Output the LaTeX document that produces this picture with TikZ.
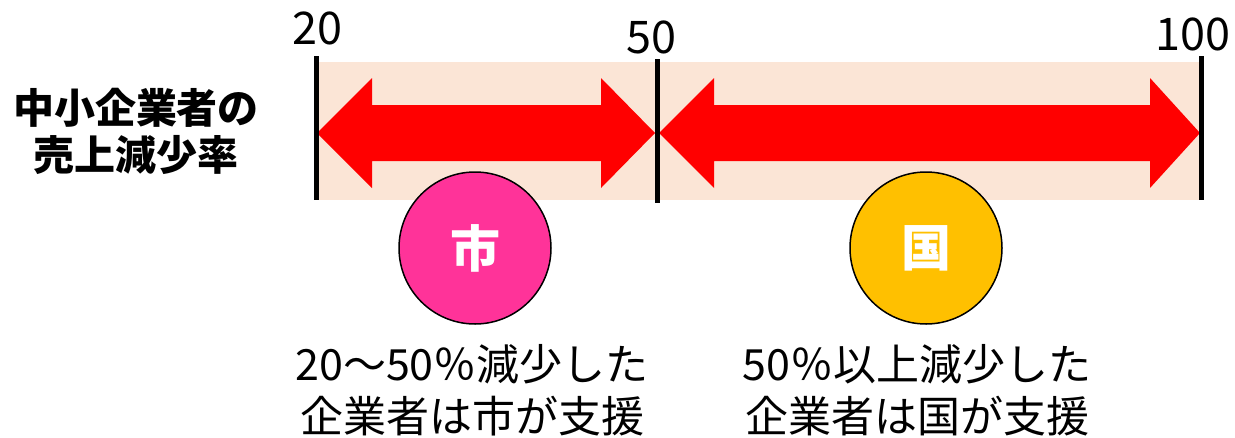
\documentclass[tikz,border=0pt]{standalone}
\usepackage{fontspec}
\setmainfont{Noto Sans CJK JP}

\begin{document}
\begin{tikzpicture}[x = 1pt, y = -1pt,
    band/.style = {fill={rgb,255:red,251;green,229;blue,214}},
    tick/.style = {line width = 5pt},
    redarrow/.style = {fill={rgb,255:red,255;green,0;blue,0}},
    badge/.style = {circle, draw, line width = 1.5pt, minimum size = 152pt, inner sep = 0pt,
        text = white, font = \fontsize{50}{60}\selectfont\bfseries},
    scale label/.style = {font = \fontsize{45}{50}\selectfont},
    note/.style = {align = center, font = \fontsize{43}{52}\selectfont}]
    \useasboundingbox (0,0) rectangle (1235,437);
    \fill[band] (316,62) rectangle (1200,200);
    % arrows
    \fill[redarrow]
    (317,133) -- (372,78) -- (372,105) -- (601,105) -- (601,78) -- (655,133) -- (601,188) -- (601,161) -- (372,161) -- (372,188) -- cycle;
    \fill[redarrow]
    (659,133) -- (714,78) -- (714,105) -- (1150,105) -- (1150,78) -- (1200,133) -- (1150,188) -- (1150,161) -- (714,161) -- (714,188) -- cycle;
    % ticks
    \coordinate (t20) at (316,56);
    \coordinate (b20) at (316,200);
    \coordinate (t50) at (657,59);
    \coordinate (b50) at (657,203);
    \coordinate (t100) at (1201,56);
    \coordinate (b100) at (1201,200);
    \draw[tick] (t20) -- (b20);
    \draw[tick] (t50) -- (b50);
    \draw[tick] (t100) -- (b100);
    \node[scale label] (n20) at (317,28) {20};
    \node[scale label] (n50) at (651,37) {50};
    \node[scale label] (n100) at (1193,34) {100};
    \node[align = center, font = \fontsize{41}{47}\selectfont\bfseries] (rate) at (136,131) {中小企業者の\\売上減少率};
    % who helps
    \node[badge, fill={rgb,255:red,255;green,51;blue,153}] (city) at (475,248) {市};
    \node[badge, fill={rgb,255:red,255;green,192;blue,0}] (state) at (926,248) {国};
    \node[note] (citynote) at (472,390) {20〜50％減少した\\企業者は市が支援};
    \node[note] (statenote) at (917,390) {50％以上減少した\\企業者は国が支援};
\end{tikzpicture}
\end{document}
